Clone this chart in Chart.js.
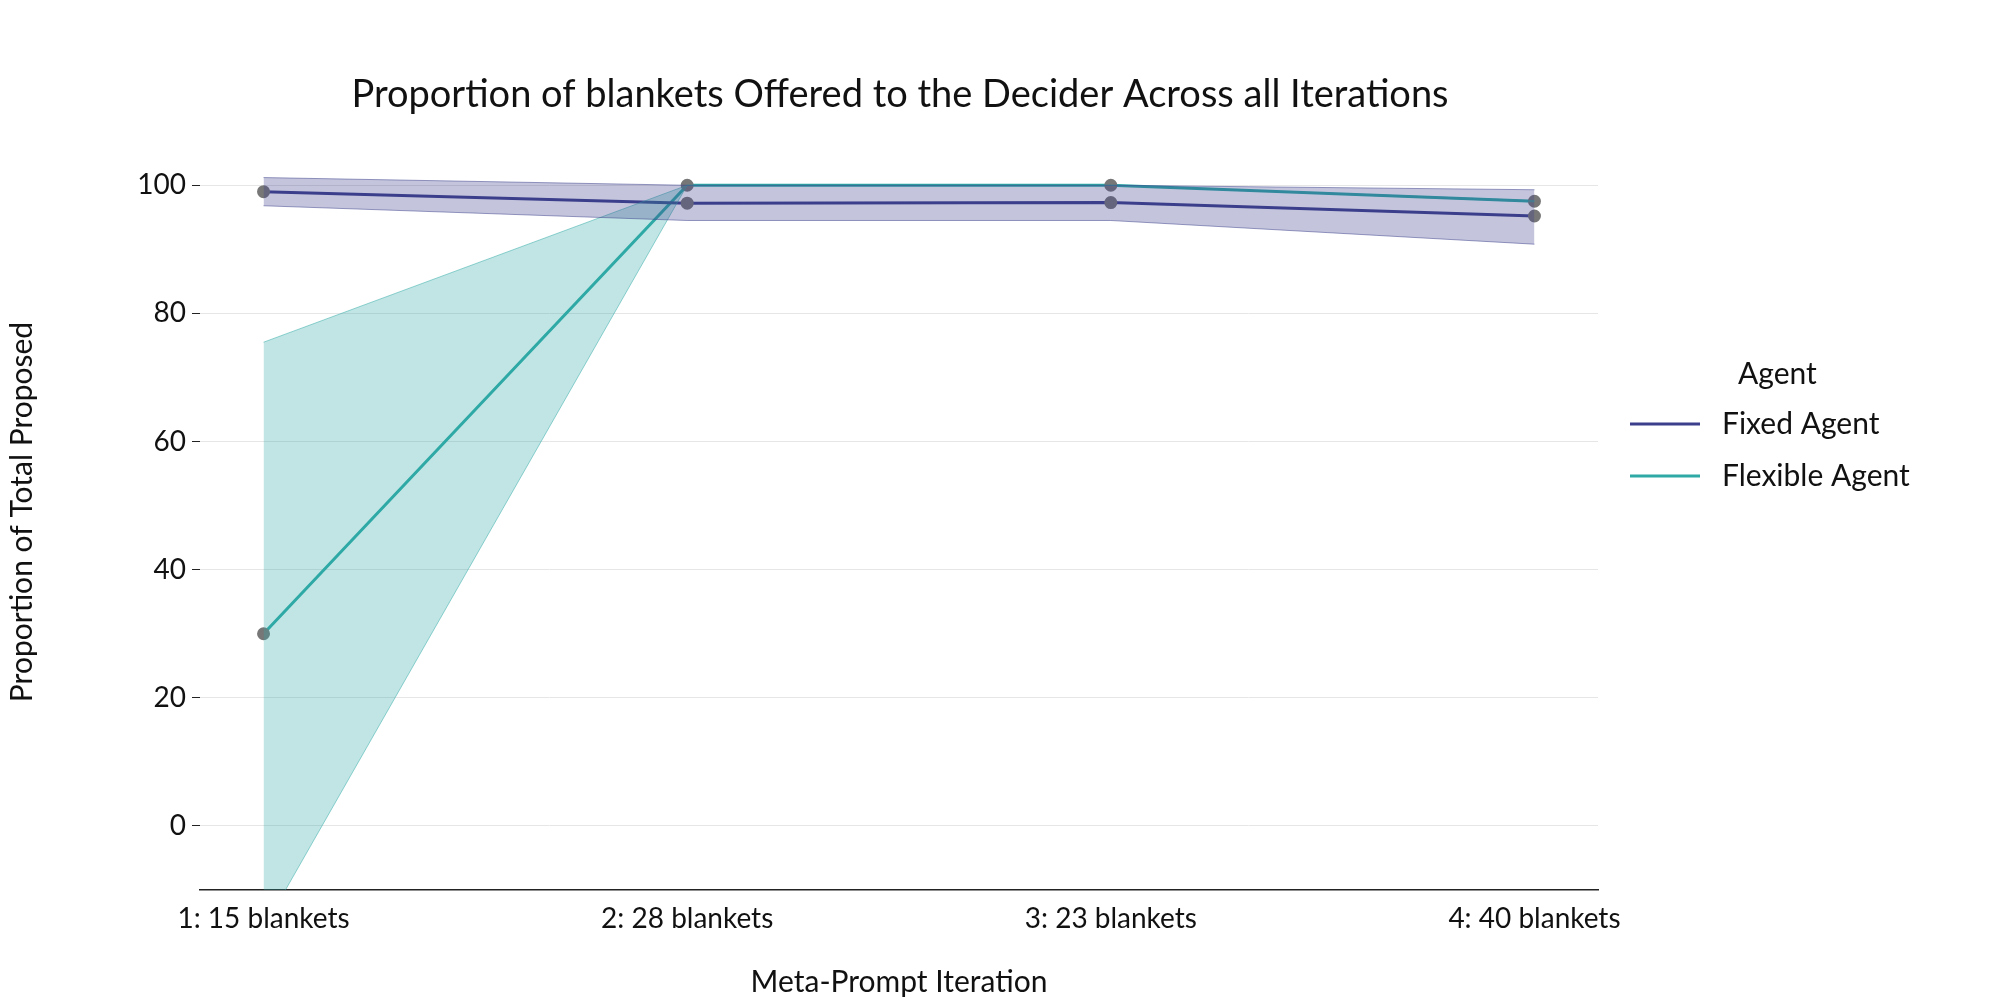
<!DOCTYPE html>
<html><head><meta charset="utf-8">
<script src="https://cdn.jsdelivr.net/npm/chart.js@4"></script>
<style>body{margin:0;background:#fff}</style>
</head><body>
<canvas id="c" width="2000" height="1000"></canvas>
<script>
const categories = ["1: 15 blankets","2: 28 blankets","3: 23 blankets","4: 40 blankets"];
const fixedMean = [99, 97.2, 97.3, 95.2];
const fixedUpper = [101.2, 100, 100, 99.3];
const fixedLower = [96.8, 94.5, 94.5, 90.8];
const flexMean = [30, 100, 100, 97.5];
const flexUpper = [75.5, 100, 100, 97.6];
const flexLower = [-16, 100, 100, 97.4];
const yTicks = [0, 20, 40, 60, 80, 100];

const FONT = "Lato, 'Noto Sans', sans-serif";
const fixedColor = '#3c3f8c', flexColor = '#2ea9a6';
const pts = a => a.map((v,i)=>({x:i,y:v}));
const band = (data, fill, color) => ({data:pts(data), fill, backgroundColor:color, borderColor:color.replace(/0\.3\)/,'0.5)'), borderWidth:1, pointRadius:0, legend:false});

const overlay = {
  id:'overlay',
  afterDraw(chart){
    const ctx = chart.ctx;
    ctx.save();
    ctx.fillStyle = '#111';
    ctx.font = `38px ${FONT}`;
    ctx.textAlign = 'center'; ctx.textBaseline='middle';
    ctx.fillText('Proportion of blankets Offered to the Decider Across all Iterations', 900, 95);
    ctx.font = `30px ${FONT}`;
    ctx.textAlign='left';
    ctx.fillText('Agent', 1738, 374);
    [['Fixed Agent',fixedColor,424],['Flexible Agent',flexColor,476]].forEach(([t,c,y])=>{
      ctx.strokeStyle=c; ctx.lineWidth=3;
      ctx.beginPath(); ctx.moveTo(1630,y); ctx.lineTo(1700,y); ctx.stroke();
      ctx.fillStyle='#111'; ctx.fillText(t,1722,y);
    });
    ctx.restore();
  }
};

new Chart(document.getElementById('c'), {
  type:'line',
  data:{datasets:[
    band(fixedUpper, false, 'rgba(60,63,140,0.3)'),
    band(fixedLower, '-1', 'rgba(60,63,140,0.3)'),
    band(flexUpper, false, 'rgba(46,169,166,0.3)'),
    band(flexLower, '-1', 'rgba(46,169,166,0.3)'),
    {data:pts(fixedMean), borderColor:fixedColor, borderWidth:3, fill:false, pointRadius:5, pointBackgroundColor:'#777', pointBorderColor:'#777'},
    {data:pts(flexMean), borderColor:flexColor, borderWidth:3, fill:false, pointRadius:5, pointBackgroundColor:'#777', pointBorderColor:'#777'}
  ]},
  options:{
    responsive:false, animation:false,
    layout:{padding:{top:134, right:402, left:0, bottom:0}},
    plugins:{legend:{display:false}, tooltip:{enabled:false}},
    scales:{
      x:{type:'linear', min:-0.15, max:3.15,
        afterBuildTicks:s=>{s.ticks=[0,1,2,3].map(v=>({value:v}));},
        afterFit:s=>{s.height=110;},
        grid:{display:false, drawTicks:true},
        border:{display:true, color:'#222', width:1.5},
        ticks:{callback:v=>categories[v], color:'#111', font:{size:28, family:FONT}, padding:4, maxRotation:0},
        title:{display:true, text:'Meta-Prompt Iteration', color:'#111', font:{size:30, family:FONT}, padding:0}
      },
      y:{min:-10, max:108,
        afterBuildTicks:s=>{s.ticks=yTicks.map(v=>({value:v}));},
        afterFit:s=>{s.width=200;},
        grid:{color:'#e6e6e6', lineWidth:1, tickLength:8, tickColor:'#222'},
        border:{display:false},
        ticks:{color:'#111', font:{size:28, family:FONT}, padding:6},
        title:{display:true, text:'Proportion of Total Proposed', color:'#111', font:{size:30, family:FONT}, padding:{bottom:14}}
      }
    }
  },
  plugins:[overlay]
});
</script>
</body></html>
